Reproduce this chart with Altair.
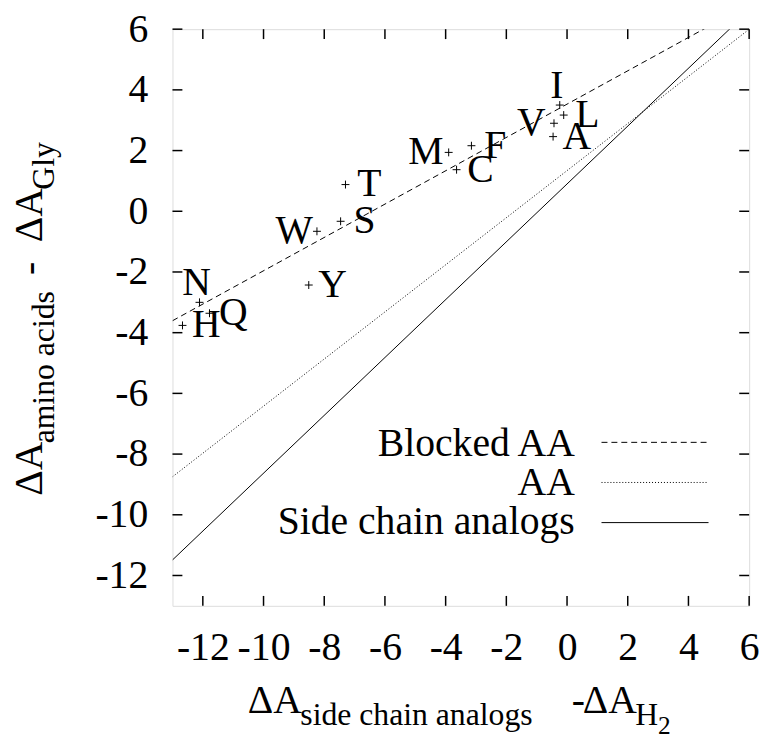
import altair as alt
import pandas as pd

FONT = "Liberation Serif"
W = 582
H = 582

# ---- data ----
residues = ["N", "H", "Q", "Y", "W", "S", "T", "M", "C", "F", "V", "I", "L", "A"]
x_vals = [-12.11, -12.67, -11.78, -8.51, -8.24, -7.46, -7.30, -3.90, -3.64, -3.15, -0.43, -0.24, -0.11, -0.46]
y_vals = [-3.00, -3.76, -3.36, -2.43, -0.66, -0.33, 0.88, 1.94, 1.37, 2.16, 2.90, 3.50, 3.17, 2.46]
label_side = ["above", "right", "right", "right", "left", "right", "right", "left",
              "right", "right", "left", "above", "right", "right"]

fit_names = ["Blocked AA", "AA", "Side chain analogs"]
fit_slopes = [0.549, 0.776, 0.953]
fit_intercepts = [3.53, 1.34, 0.90]

x_ticks = [-12, -10, -8, -6, -4, -2, 0, 2, 4, 6]
y_ticks = [-12, -10, -8, -6, -4, -2, 0, 2, 4, 6]
x_domain = [-13, 6]
y_domain = [-13, 6]

# ---- styles ----
fit_dash = {"Blocked AA": [6, 4], "AA": [1, 2], "Side chain analogs": None}

xs = alt.Scale(domain=x_domain, nice=False, zero=False)
ys = alt.Scale(domain=y_domain, nice=False, zero=False)
xa = alt.Axis(values=x_ticks, labelExpr="datum.value + ''", labelFont=FONT, labelFontSize=40,
              labelColor="black", labelPadding=22, ticks=False, domain=False, grid=False,
              title=None, labelFlush=False, labelOverlap=False)
ya = alt.Axis(values=y_ticks, labelExpr="datum.value + ''", labelFont=FONT, labelFontSize=40,
              labelColor="black", labelPadding=25, ticks=False, domain=False, grid=False,
              title=None, labelFlush=False, labelOverlap=False)
X = alt.X("x:Q", scale=xs, axis=xa)
Y = alt.Y("y:Q", scale=ys, axis=ya)

pts = pd.DataFrame({"res": residues, "x": x_vals, "y": y_vals, "side": label_side})

rows = []
for nm, m, b in zip(fit_names, fit_slopes, fit_intercepts):
    for xv in x_domain:
        rows.append({"name": nm, "x": xv, "y": m * xv + b})
fit_df = pd.DataFrame(rows)

layers = []

# fit lines
for nm in fit_names:
    kw = dict(clip=True, color="black", strokeWidth=1)
    if fit_dash[nm]:
        kw["strokeDash"] = fit_dash[nm]
    layers.append(
        alt.Chart(fit_df).transform_filter(alt.datum.name == nm).mark_line(**kw).encode(x=X, y=Y)
    )

# points
layers.append(
    alt.Chart(pts).mark_point(shape="M-1,0L1,0M0,-1L0,1", size=64, filled=False,
                              stroke="black", strokeWidth=1, opacity=1).encode(x=X, y=Y)
)

# point labels
offsets = {"right": (24, 0), "left": (-23, 0), "above": (-3, -19)}
for side, (dx, dy) in offsets.items():
    layers.append(
        alt.Chart(pts).transform_filter(alt.datum.side == side).mark_text(
            font=FONT, fontSize=40, color="black", align="center", baseline="middle", dx=dx, dy=dy
        ).encode(x=X, y=Y, text="res:N")
    )

# inward ticks on all four sides
xt_df = pd.DataFrame({"x": x_ticks})
yt_df = pd.DataFrame({"y": y_ticks})
TL = 10
layers.append(alt.Chart(xt_df).mark_rule(color="black", strokeWidth=1.5).encode(
    x=X, y=alt.value(H), y2=alt.value(H - TL)))
layers.append(alt.Chart(xt_df).mark_rule(color="black", strokeWidth=1.5).encode(
    x=X, y=alt.value(0), y2=alt.value(TL)))
layers.append(alt.Chart(yt_df).mark_rule(color="black", strokeWidth=1.5).encode(
    y=Y, x=alt.value(0), x2=alt.value(TL)))
layers.append(alt.Chart(yt_df).mark_rule(color="black", strokeWidth=1.5).encode(
    y=Y, x=alt.value(W), x2=alt.value(W - TL)))

# legend (gnuplot style: text right-aligned, sample on the right)
leg_text_x = 406
leg_base_y = 431
leg_line_y = 417
leg_step = 39.5
for i, nm in enumerate(fit_names):
    layers.append(
        alt.Chart(pd.DataFrame({"name": [nm]})).mark_text(
            font=FONT, fontSize=40, color="black", align="right", baseline="alphabetic"
        ).encode(text="name:N", x=alt.value(leg_text_x), y=alt.value(leg_base_y + i * leg_step))
    )
    kw = dict(color="black", strokeWidth=1)
    if fit_dash[nm]:
        kw["strokeDash"] = fit_dash[nm]
    layers.append(
        alt.Chart(pd.DataFrame({"name": [nm]})).mark_rule(**kw).encode(
            x=alt.value(433), x2=alt.value(541), y=alt.value(leg_line_y + i * 40.5))
    )

# axis titles with subscripts built from text pieces
dummy = pd.DataFrame({"a": [0]})
x_title = [
    ("ΔA", 76, 690, 40),
    ("side chain analogs", 129, 702, 32),
    ("-", 403, 690, 40),
    ("ΔA", 414, 690, 40),
    ("H", 467, 702, 32),
    ("2", 490, 711, 25.6),
]
for t, px, py, fs in x_title:
    layers.append(alt.Chart(dummy).mark_text(
        text=t, font=FONT, fontSize=fs, color="black", align="left", baseline="alphabetic"
    ).encode(x=alt.value(px), y=alt.value(py)))

y_title = [
    ("ΔA", -132, 471, 40),
    ("amino acids", -120, 418, 32),
    ("-", -132, 248, 40),
    ("ΔA", -132, 215, 40),
    ("Gly", -120, 162, 32),
]
for t, px, py, fs in y_title:
    layers.append(alt.Chart(dummy).mark_text(
        text=t, font=FONT, fontSize=fs, color="black", align="left", baseline="alphabetic", angle=270
    ).encode(x=alt.value(px), y=alt.value(py)))

chart = alt.layer(*layers).properties(
    width=W, height=H,
    autosize=alt.AutoSizeParams(type="none"),
    padding={"left": 166, "top": 18, "right": 16, "bottom": 128},
).configure_view(stroke="black", strokeWidth=2).configure(background="white")

chart.save("out.html", embed_options={"renderer": "svg", "actions": False})
